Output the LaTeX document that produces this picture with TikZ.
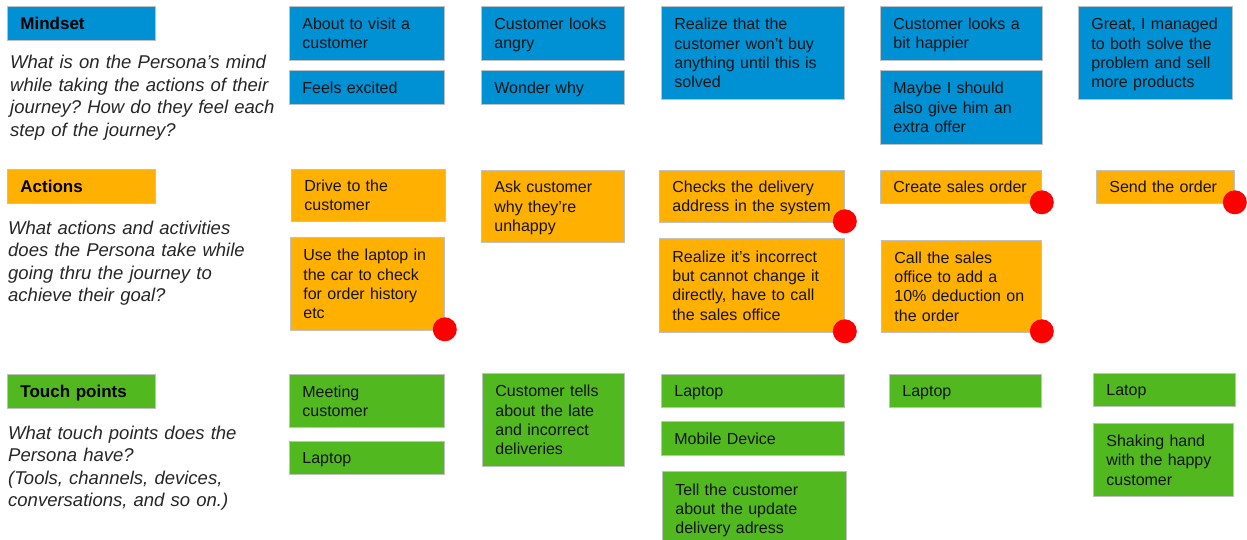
\documentclass[tikz,border=0pt]{standalone}
\usepackage{fontspec}
\setmainfont{Liberation Sans}
\usetikzlibrary{positioning}
\definecolor{mindblue}{RGB}{0,144,212}
\definecolor{actorange}{RGB}{255,176,0}
\definecolor{touchgreen}{RGB}{82,184,32}
\definecolor{cardline}{RGB}{192,192,192}
\tikzset{card/.style={rectangle, draw=cardline, line width=0.8pt, anchor=north west,
    inner xsep=13pt, inner ysep=7pt, align=left, text=black!92,
    font=\fontsize{16}{19.3}\selectfont,
    execute at begin node={\vphantom{d}}, execute at end node={\par\kern-\prevdepth}}}
\tikzset{mind/.style 2 args={card, fill=mindblue, text width=#1-26pt, minimum height=#2}}
\tikzset{act/.style 2 args={card, fill=actorange, text width=#1-26pt, minimum height=#2}}
\tikzset{touch/.style 2 args={card, fill=touchgreen, text width=#1-26pt, minimum height=#2}}
\tikzset{header/.style={card, text width=122pt, minimum height=34pt, text=black,
    font=\fontsize{17}{20}\selectfont\bfseries}}
\tikzset{question/.style={anchor=base west, inner sep=0pt, text width=290pt, align=left,
    text=black!85, font=\fontsize{18.5}{22.5}\selectfont\itshape}}
\tikzset{issue/.style={circle, fill=red, minimum size=24pt, inner sep=0pt}}

\begin{document}
\frenchspacing
\begin{tikzpicture}[x=1pt,y=-1pt]
  \path[use as bounding box, clip] (0,0) rectangle (1247,540);

  \node[header, fill=mindblue] (mindset) at (7,6) {Mindset};
  \node[header, fill=actorange] (actions) at (7,169) {Actions};
  \node[header, fill=touchgreen] (touchpts) at (7,374) {Touch points};

  \node[question] (mindq) at (10,69) {What is on the Persona’s mind\\while taking the actions of their\\journey? How do they feel each\\step of the journey?};
  \node[question] (actq) at (8,234) {What actions and activities\\does the Persona take while\\going thru the journey to\\achieve their goal?};
  \node[question] (touchq) at (8,439) {What touch points does the\\Persona have?\\(Tools, channels, devices,\\conversations, and so on.)};

  \node[mind={155pt}{54pt}] (m1a) at (289,6) {About to visit a\\customer};
  \node[mind={155pt}{34pt}] (m1b) at (289,70) {Feels excited};
  \node[act={154pt}{52pt}] (a1a) at (291,169) {Drive to the\\customer};
  \node[act={154pt}{93pt}] (a1b) at (290,237) {Use the laptop in\\the car to check\\for order history\\etc};
  \node[touch={155pt}{53pt}] (t1a) at (289,374) {Meeting\\customer};
  \node[touch={155pt}{33pt}] (t1b) at (289,441) {Laptop};

  \node[mind={143pt}{54pt}] (m2a) at (481,6) {Customer looks\\angry};
  \node[mind={143pt}{34pt}] (m2b) at (481,70) {Wonder why};
  \node[act={143pt}{72pt}] (a2a) at (481,170) {Ask customer\\why they’re\\unhappy};
  \node[touch={142pt}{93pt}] (t2a) at (482,373) {Customer tells\\about the late\\and incorrect\\deliveries};

  \node[mind={183pt}{93pt}] (m3a) at (661,6) {Realize that the\\customer won’t buy\\anything until this is\\solved};
  \node[act={185pt}{52pt}] (a3a) at (659,170) {Checks the delivery\\address in the system};
  \node[act={185pt}{94pt}] (a3b) at (659,238) {Realize it’s incorrect\\but cannot change it\\directly, have to call\\the sales office};
  \node[touch={183pt}{33pt}] (t3a) at (661,374) {Laptop};
  \node[touch={183pt}{34pt}] (t3b) at (661,421) {Mobile Device};
  \node[touch={184pt}{94pt}] (t3c) at (662,471) {Tell the customer\\about the update\\delivery adress\\\mbox{}};

  \node[mind={162pt}{54pt}] (m4a) at (880,6) {Customer looks a\\bit happier};
  \node[mind={162pt}{74pt}] (m4b) at (880,70) {Maybe I should\\also give him an\\extra offer};
  \node[act={161pt}{33pt}] (a4a) at (880,170) {Create sales order};
  \node[act={160pt}{92pt}] (a4b) at (881,240) {Call the sales\\office to add a\\10\% deduction on\\the order};
  \node[touch={152pt}{33pt}] (t4a) at (889,374) {Laptop};

  \node[mind={154pt}{93pt}] (m5a) at (1078,6) {Great, I managed\\to both solve the\\problem and sell\\more products};
  \node[act={138pt}{33pt}] (a5a) at (1096,170) {Send the order};
  \node[touch={142pt}{33pt}] (t5a) at (1093,373) {Latop};
  \node[touch={140pt}{73pt}] (t5b) at (1093,423) {Shaking hand\\with the happy\\customer};

  \foreach \card in {a1b,a3a,a3b,a4a,a4b,a5a}
    \node[issue] (dot-\card) at ([yshift=1.5pt]\card.south east) {};
\end{tikzpicture}
\end{document}
